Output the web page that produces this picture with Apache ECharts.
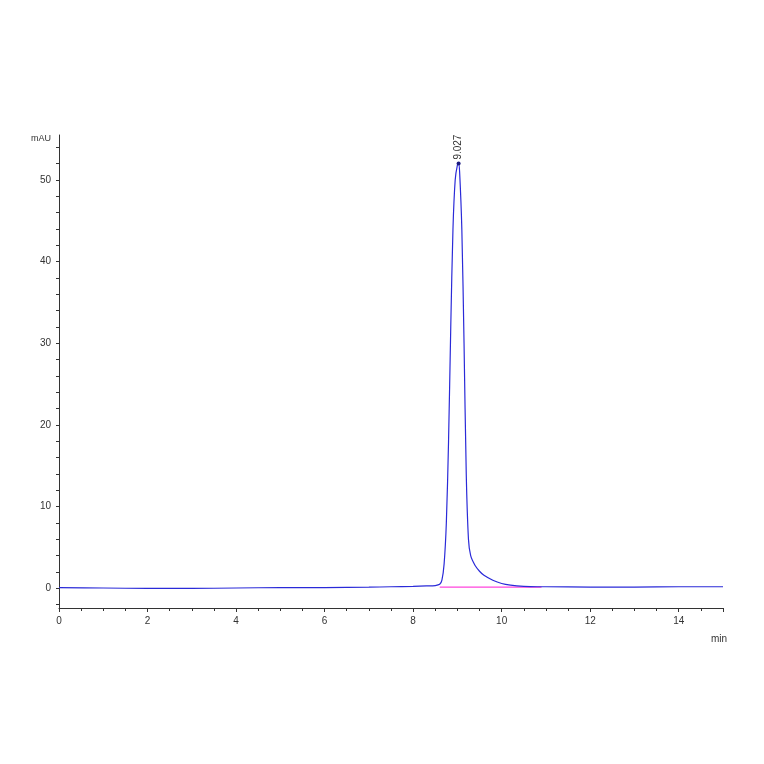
<!DOCTYPE html>
<html>
<head>
<meta charset="utf-8">
<script src="https://cdn.jsdelivr.net/npm/echarts@6/dist/echarts.min.js"></script>
<style>html,body{margin:0;background:#fff}#main{width:764px;height:764px}</style>
</head>
<body>
<div id="main"></div>
<script>
var times = [0, 1, 2, 3, 4, 5, 6, 7, 7.5, 8, 8.3, 8.5, 8.6, 8.65, 8.7, 8.75, 8.8, 8.85, 8.9, 8.95, 9.0, 9.027, 9.05, 9.1, 9.15, 9.2, 9.25, 9.3, 9.4, 9.5, 9.6, 9.8, 10, 10.2, 10.5, 10.8, 11, 12, 13, 14, 15];
var signal = [0.1, 0.05, 0.0, 0.0, 0.05, 0.1, 0.1, 0.15, 0.2, 0.25, 0.3, 0.35, 0.5, 1, 3, 8, 18, 32, 44, 50, 51.8, 52, 51, 44, 30, 14, 6, 4, 2.8, 2.1, 1.6, 1.0, 0.6, 0.4, 0.25, 0.2, 0.2, 0.15, 0.15, 0.2, 0.2];
var baseline = [[8.6, 0.15], [10.9, 0.15]];
var peakTime = 9.027, peakValue = 52;
var yLabels = [0, 10, 20, 30, 40, 50];
var yTicks = [];
for (var v = -2; v <= 54; v += 2) yTicks.push(v);

var myChart = echarts.init(document.getElementById('main'));
var option = {
    backgroundColor: '#ffffff',
    animation: false,
    textStyle: {fontFamily: 'Liberation Sans', color: '#333'},
    grid: {left: 59, right: 41, top: 135, bottom: 156},
    xAxis: {
        type: 'value', min: 0, max: 15, interval: 2,
        name: 'min', nameLocation: 'end', nameGap: -12,
        nameTextStyle: {fontSize: 10, color: '#333', verticalAlign: 'top', padding: [26, 0, 0, 0]},
        axisLine: {onZero: false, lineStyle: {color: '#333'}},
        axisTick: {length: 4, lineStyle: {color: '#333'}},
        minorTick: {show: true, splitNumber: 4, length: 3, lineStyle: {color: '#333'}},
        splitLine: {show: false},
        axisLabel: {fontSize: 10, color: '#333', showMaxLabel: false}
    },
    yAxis: {
        type: 'value', min: -2.4, max: 55.5,
        name: 'mAU', nameLocation: 'end', nameGap: -8,
        nameTextStyle: {fontSize: 9, color: '#333', align: 'right', padding: [0, 8, 0, 0]},
        axisLine: {show: true, onZero: false, lineStyle: {color: '#333'}},
        axisTick: {show: true, customValues: yTicks, length: 3, lineStyle: {color: '#333'}},
        splitLine: {show: false},
        axisLabel: {customValues: yLabels, fontSize: 10, color: '#333'}
    },
    series: [
        {
            name: 'baseline', type: 'line', data: baseline, symbol: 'none',
            lineStyle: {color: '#ff44dd', width: 1.2}, z: 1
        },
        {
            name: 'signal', type: 'line', symbol: 'none', smooth: 0.3,
            data: times.map(function (t, i) { return [t, signal[i]]; }),
            lineStyle: {color: '#2a2ad8', width: 1.2}, z: 2,
            markPoint: {
                symbol: 'circle', symbolSize: 4,
                itemStyle: {color: '#1a1a80'},
                data: [{coord: [peakTime, peakValue]}],
                label: {
                    show: true, formatter: peakTime.toFixed(3), rotate: 90,
                    position: 'top', distance: 2, align: 'left', verticalAlign: 'middle',
                    fontSize: 10, color: '#333'
                }
            }
        }
    ]
};
myChart.setOption(option);
</script>
</body>
</html>
